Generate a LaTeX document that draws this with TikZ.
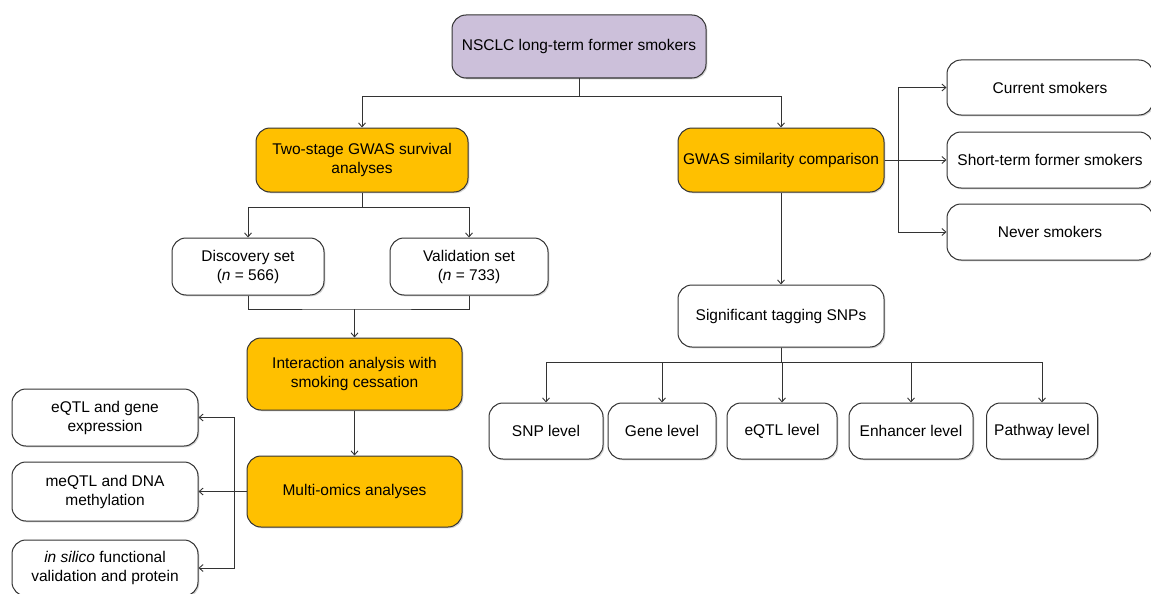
\documentclass[tikz,border=0pt]{standalone}
\usepackage{fontspec}
\setmainfont{Liberation Sans}
\usetikzlibrary{arrows.meta,shadows}
\definecolor{Lavender}{HTML}{CCC0DA}
\definecolor{Amber}{HTML}{FFC000}
\definecolor{Edge}{HTML}{333333}

\begin{document}
\begin{tikzpicture}[x=1pt, y=-1pt,
  box/.style={draw=Edge, line width=1pt, rounded corners=14pt, fill=white, align=center,
    inner sep=3pt, font=\fontsize{15.5}{19}\selectfont,
    drop shadow={shadow xshift=1.3pt, shadow yshift=-1.3pt, opacity=.35}},
  hub/.style={box, fill=Amber},
  arr/.style={draw=Edge, line width=.9pt, -{Straight Barb[length=4pt,width=7pt]}},
  link/.style={draw=Edge, line width=.9pt}]
\useasboundingbox (0,0) rectangle (1151,594);

% top of the tree
\node[box, fill=Lavender, minimum width=254pt, minimum height=63pt] (nsclc) at (579,46.5) {NSCLC long-term former smokers};
\node[hub, minimum width=212pt, minimum height=64pt] (gwas) at (362,160) {Two-stage GWAS survival\\analyses};
\node[hub, minimum width=206pt, minimum height=64pt] (simil) at (781,160) {GWAS similarity comparison};

% smoking groups
\node[box, minimum width=206pt, minimum height=55pt] (current) at (1050,87.5) {Current smokers};
\node[box, minimum width=206pt, minimum height=56pt] (short) at (1050,160) {Short-term former smokers};
\node[box, minimum width=206pt, minimum height=56pt] (never) at (1050,232) {Never smokers};

% survival branch
\node[box, minimum width=152pt, minimum height=57pt] (disc) at (248,266.5) {Discovery set\\(\textit{n} = 566)};
\node[box, minimum width=158pt, minimum height=57pt] (valid) at (469,266.5) {Validation set\\(\textit{n} = 733)};
\node[hub, minimum width=215pt, minimum height=72pt] (inter) at (354.5,374) {Interaction analysis with\\smoking cessation};
\node[hub, minimum width=215pt, minimum height=71pt] (multi) at (354.5,491.5) {Multi-omics analyses};
\node[box, minimum width=186pt, minimum height=57pt] (eqtl) at (105,417.5) {eQTL and gene\\expression};
\node[box, minimum width=186pt, minimum height=59pt] (meqtl) at (105,491.5) {meQTL and DNA\\methylation};
\node[box, minimum width=186pt, minimum height=56pt] (silico) at (105,568) {\textit{in silico} functional\\validation and protein};

% similarity branch
\node[box, minimum width=206pt, minimum height=62pt] (snps) at (781,316) {Significant tagging SNPs};
\node[box, minimum width=114pt, minimum height=56pt] (lsnp) at (546,431) {SNP level};
\node[box, minimum width=108pt, minimum height=56pt] (lgene) at (662,431) {Gene level};
\node[box, minimum width=110pt, minimum height=56pt] (leqtl) at (782,431) {eQTL level};
\node[box, minimum width=124pt, minimum height=56pt] (lenh) at (911,431) {Enhancer level};
\node[box, minimum width=111pt, minimum height=56pt] (lpath) at (1042,431) {Pathway level};

% connectors
\draw[arr] (nsclc.south) -- ++(0,18) -| (gwas.north);
\draw[arr] (nsclc.south) -- ++(0,18) -| (simil.north);
\draw[arr] (gwas.south) -- ++(0,15) -| (disc.north);
\draw[arr] (gwas.south) -- ++(0,15) -| (valid.north);
\coordinate (merge) at (354.5,309);
\draw[link] (disc.south) |- (merge) -| (valid.south);
\draw[arr] (merge) -- (inter.north);
\draw[arr] (inter.south) -- (multi.north);
\draw[arr] (multi.west) -- (meqtl.east);
\draw[arr] (multi.west) -- ++(-12,0) |- (eqtl.east);
\draw[arr] (multi.west) -- ++(-12,0) |- (silico.east);
\draw[arr] (simil.east) -- (short.west);
\draw[arr] (simil.east) -- ++(14,0) |- (current.west);
\draw[arr] (simil.east) -- ++(14,0) |- (never.west);
\draw[arr] (simil.south) -- (snps.north);
\foreach \lv in {lsnp,lgene,leqtl,lenh,lpath}
  \draw[arr] (snps.south) -- ++(0,15) -| (\lv.north);
\end{tikzpicture}
\end{document}
